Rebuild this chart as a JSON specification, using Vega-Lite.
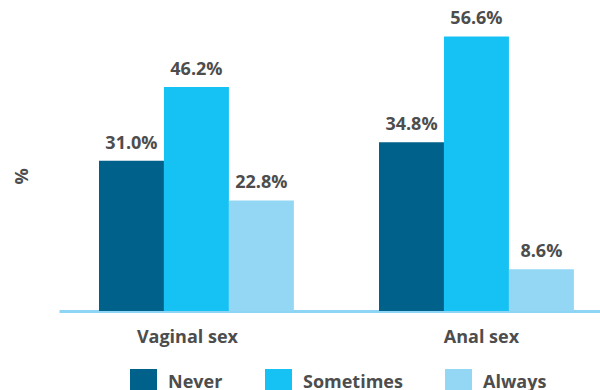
{
  "$schema": "https://vega.github.io/schema/vega-lite/v6.json",
  "autosize": "none",
  "width": 541,
  "height": 291,
  "padding": {"left": 59, "top": 20, "right": 0, "bottom": 79},
  "background": "white",
  "config": {
    "view": {"stroke": null},
    "font": "Open Sans",
    "text": {"font": "Open Sans"}
  },
  "data": {
    "values": [
      {"act": "Vaginal sex", "freq": "Never", "pct": 31.0, "label": "31.0%"},
      {"act": "Vaginal sex", "freq": "Sometimes", "pct": 46.2, "label": "46.2%"},
      {"act": "Vaginal sex", "freq": "Always", "pct": 22.8, "label": "22.8%"},
      {"act": "Anal sex", "freq": "Never", "pct": 34.8, "label": "34.8%"},
      {"act": "Anal sex", "freq": "Sometimes", "pct": 56.6, "label": "56.6%"},
      {"act": "Anal sex", "freq": "Always", "pct": 8.6, "label": "8.6%"}
    ]
  },
  "encoding": {
    "x": {
      "field": "act",
      "type": "nominal",
      "sort": ["Vaginal sex", "Anal sex"],
      "scale": {"paddingInner": 0.304, "paddingOuter": 0.118, "align": 0.605},
      "axis": {
        "title": null,
        "labelAngle": 0,
        "ticks": false,
        "domain": true,
        "domainColor": "#8ED5F5",
        "domainWidth": 3,
        "labelFont": "Open Sans",
        "labelFontSize": 18,
        "labelFontWeight": "bold",
        "labelColor": "#4D4D4D",
        "labelPadding": 17,
        "labelOffset": {"condition": {"test": "datum.value === 'Vaginal sex'", "value": -9}, "value": 5}
      }
    },
    "xOffset": {
      "field": "freq",
      "type": "nominal",
      "sort": ["Never", "Sometimes", "Always"],
      "scale": {"paddingInner": 0, "paddingOuter": 0}
    },
    "y": {
      "field": "pct",
      "type": "quantitative",
      "scale": {"domain": [0, 60], "nice": false},
      "axis": {
        "title": "%",
        "domain": false,
        "ticks": false,
        "labels": false,
        "grid": false,
        "titleFont": "Open Sans",
        "titleFontSize": 18,
        "titleFontWeight": "bold",
        "titleColor": "#4D4D4D",
        "titleAngle": 270,
        "titleAlign": "center",
        "titleBaseline": "middle",
        "titleX": -37,
        "titleY": 156
      }
    }
  },
  "layer": [
    {
      "mark": {"type": "bar"},
      "encoding": {
        "color": {
          "field": "freq",
          "type": "nominal",
          "sort": ["Never", "Sometimes", "Always"],
          "scale": {
            "domain": ["Never", "Sometimes", "Always"],
            "range": ["#00618A", "#16C1F3", "#93D7F5"]
          },
          "legend": {
            "title": null,
            "orient": "none",
            "direction": "horizontal",
            "legendX": 71,
            "legendY": 349,
            "padding": 0,
            "symbolType": "square",
            "symbolSize": 729,
            "symbolStrokeWidth": 0,
            "symbolOpacity": 1,
            "labelFont": "Open Sans",
            "labelFontSize": 18,
            "labelFontWeight": "bold",
            "labelColor": "#4D4D4D",
            "labelOffset": 11,
            "columnPadding": 42,
            "labelLimit": 300
          }
        }
      }
    },
    {
      "mark": {
        "type": "text",
        "dy": -12,
        "baseline": "alphabetic",
        "font": "Open Sans",
        "fontSize": 18,
        "fontWeight": "bold",
        "color": "#4D4D4D"
      },
      "encoding": {
        "text": {"field": "label", "type": "nominal"}
      }
    }
  ]
}
